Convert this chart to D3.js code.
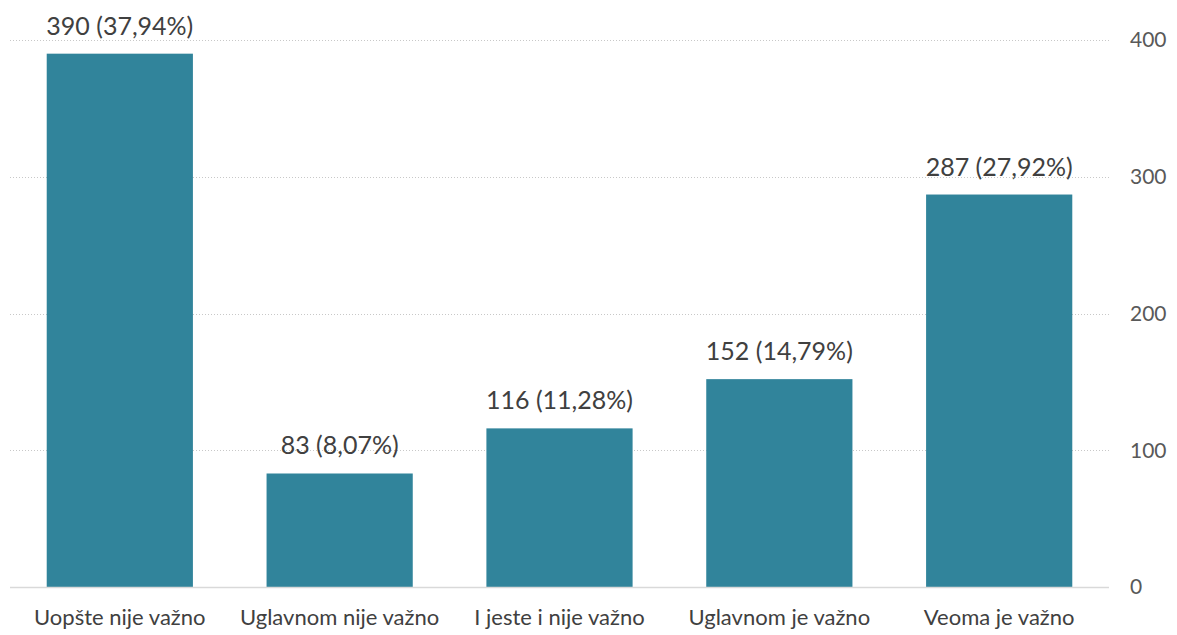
<!DOCTYPE html>
<html>
<head>
<meta charset="utf-8">
<script src="https://cdn.jsdelivr.net/npm/d3@7"></script>
<style>
  body { margin: 0; background: #fff; }
  svg text { font-family: Lato, "Open Sans", sans-serif; }
</style>
</head>
<body>
<div class="chart"></div>
<script>
var width = 1177, height = 635;

var categories = ["Uopšte nije važno", "Uglavnom nije važno", "I jeste i nije važno", "Uglavnom je važno", "Veoma je važno"];
var counts = [390, 83, 116, 152, 287];
var percents = ["37,94%", "8,07%", "11,28%", "14,79%", "27,92%"];
var y_ticks = [0, 100, 200, 300, 400];

var margin = {top: 40, right: 68, bottom: 48, left: 10};

var svg = d3.select(".chart").append("svg")
    .attr("width", width)
    .attr("height", height);

var x = d3.scaleBand()
    .domain(categories)
    .range([margin.left, width - margin.right])
    .paddingInner(0.335)
    .paddingOuter(0.167);

var y = d3.scaleLinear()
    .domain([0, 400])
    .range([height - margin.bottom, margin.top]);

// gridlines
svg.selectAll(".grid")
    .data(y_ticks.filter(function(d){ return d > 0; }))
  .enter().append("line")
    .attr("class", "grid")
    .attr("x1", margin.left)
    .attr("x2", width - margin.right)
    .attr("y1", function(d){ return Math.round(y(d)) + 0.5; })
    .attr("y2", function(d){ return Math.round(y(d)) + 0.5; })
    .attr("stroke", "#c8c8c8")
    .attr("stroke-width", 1)
    .attr("stroke-dasharray", "1,2");

// right axis labels
svg.selectAll(".y-label")
    .data(y_ticks)
  .enter().append("text")
    .attr("class", "y-label")
    .attr("x", width - margin.right + 21)
    .attr("y", function(d){ return y(d); })
    .attr("dy", "0.35em")
    .attr("fill", "#595959")
    .style("font-size", "21px")
    .text(function(d){ return d; });

// bars
svg.selectAll(".bar")
    .data(counts)
  .enter().append("rect")
    .attr("class", "bar")
    .attr("x", function(d, i){ return x(categories[i]); })
    .attr("width", x.bandwidth())
    .attr("y", function(d){ return y(d); })
    .attr("height", function(d){ return y(0) - y(d); })
    .attr("fill", "#31849b");

// baseline
svg.append("line")
    .attr("x1", margin.left)
    .attr("x2", width - margin.right)
    .attr("y1", y(0) + 0.5)
    .attr("y2", y(0) + 0.5)
    .attr("stroke", "#d9d9d9")
    .attr("stroke-width", 1.5);

// value labels
svg.selectAll(".value")
    .data(counts)
  .enter().append("text")
    .attr("class", "value")
    .attr("x", function(d, i){ return x(categories[i]) + x.bandwidth() / 2; })
    .attr("y", function(d){ return y(d) - 19; })
    .attr("text-anchor", "middle")
    .attr("fill", "#404040")
    .style("font-size", "25px")
    .text(function(d, i){ return d + " (" + percents[i] + ")"; });

// category labels
svg.selectAll(".cat")
    .data(categories)
  .enter().append("text")
    .attr("class", "cat")
    .attr("x", function(d){ return x(d) + x.bandwidth() / 2; })
    .attr("y", y(0) + 38)
    .attr("text-anchor", "middle")
    .attr("fill", "#404040")
    .style("font-size", "22px")
    .text(function(d){ return d; });
</script>
</body>
</html>
